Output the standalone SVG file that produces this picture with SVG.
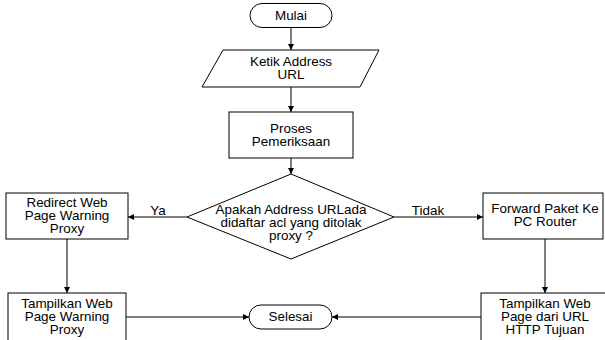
<svg xmlns="http://www.w3.org/2000/svg" width="605" height="340" viewBox="0 0 605 340">
<defs>
<marker id="arr" viewBox="0 0 8 8" refX="8" refY="4" markerWidth="6" markerHeight="6" orient="auto" markerUnits="userSpaceOnUse">
<path d="M0,0 L8,4 L0,8 z" fill="#000"/>
</marker>
<style>
.s{fill:#fff;stroke:#000;stroke-width:1}
.t{font-family:"Liberation Sans",Arial,sans-serif;font-size:12px;fill:#000;text-anchor:middle}
.c{fill:none;stroke:#000;stroke-width:1;marker-end:url(#arr)}
</style>
</defs>
<rect width="605" height="340" fill="#fff"/>
<g id="connectors">
<path class="c" d="M291,27.5 V50"/>
<path class="c" d="M291,87 V112"/>
<path class="c" d="M291,158 V174"/>
<path class="c" d="M187,217 H128"/>
<path class="c" d="M394,217 H483"/>
<path class="c" d="M67,239 V293"/>
<path class="c" d="M545,239 V293"/>
<path class="c" d="M126,317 H249"/>
<path class="c" d="M481,317 H332"/>
<text class="t" transform="translate(158,215) scale(1.12,1)">Ya</text>
<text class="t" transform="translate(428,215) scale(1.12,1)">Tidak</text>
</g>
<g id="mulai">
<rect class="s" x="250" y="3.5" width="82" height="24" rx="12"/>
<text class="t" transform="translate(291,20) scale(1.12,1)">Mulai</text>
</g>
<g id="ketik">
<polygon class="s" points="223,50 379,50 360,87 202,87"/>
<text class="t" transform="translate(291,66) scale(1.12,1)">Ketik Address</text>
<text class="t" transform="translate(291,79) scale(1.12,1)">URL</text>
</g>
<g id="proses">
<rect class="s" x="229" y="112" width="124" height="46"/>
<text class="t" transform="translate(291,133) scale(1.12,1)">Proses</text>
<text class="t" transform="translate(291,146) scale(1.12,1)">Pemeriksaan</text>
</g>
<g id="decision">
<polygon class="s" points="291,174 394,217 291,259 187,217"/>
<text class="t" transform="translate(291,214) scale(1.12,1)">Apakah Address URLada</text>
<text class="t" transform="translate(291,227) scale(1.12,1)">didaftar acl yang ditolak</text>
<text class="t" transform="translate(291,240) scale(1.12,1)">proxy ?</text>
</g>
<g id="redirect">
<rect class="s" x="6" y="193" width="122" height="46"/>
<text class="t" transform="translate(67,207) scale(1.12,1)">Redirect Web</text>
<text class="t" transform="translate(67,220) scale(1.12,1)">Page Warning</text>
<text class="t" transform="translate(67,233) scale(1.12,1)">Proxy</text>
</g>
<g id="forward">
<rect class="s" x="483" y="193" width="120" height="46"/>
<text class="t" transform="translate(545,213) scale(1.12,1)">Forward Paket Ke</text>
<text class="t" transform="translate(545,226) scale(1.12,1)">PC Router</text>
</g>
<g id="tampil-warning">
<rect class="s" x="8" y="293" width="118" height="52"/>
<text class="t" transform="translate(67,308) scale(1.12,1)">Tampilkan Web</text>
<text class="t" transform="translate(67,321) scale(1.12,1)">Page Warning</text>
<text class="t" transform="translate(67,334) scale(1.12,1)">Proxy</text>
</g>
<g id="selesai">
<rect class="s" x="249" y="305" width="83" height="24" rx="12"/>
<text class="t" transform="translate(290.5,321) scale(1.12,1)">Selesai</text>
</g>
<g id="tampil-url">
<rect class="s" x="481" y="293" width="130" height="52"/>
<text class="t" transform="translate(545,308) scale(1.12,1)">Tampilkan Web</text>
<text class="t" transform="translate(545,321) scale(1.12,1)">Page dari URL</text>
<text class="t" transform="translate(545,334) scale(1.12,1)">HTTP Tujuan</text>
</g>
</svg>
